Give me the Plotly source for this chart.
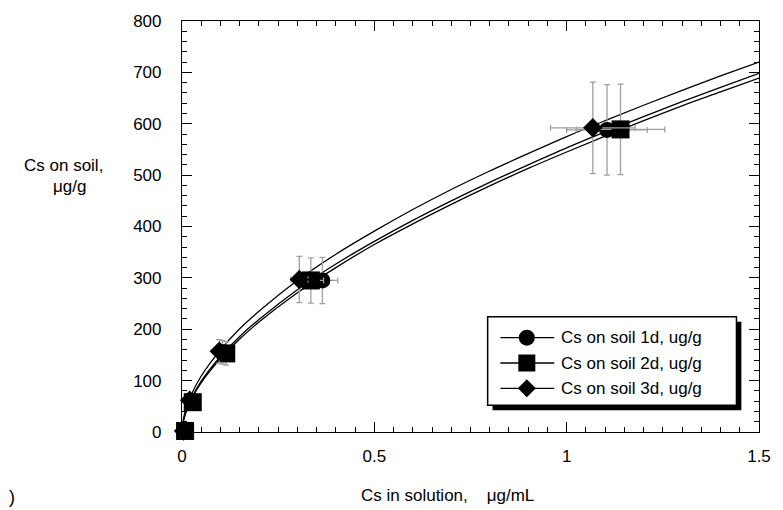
import plotly.graph_objects as go

# ---- measured sorption data (Cs in solution vs Cs on soil) ----
c_1d = [0.005, 0.025, 0.105, 0.365, 1.105]
q_1d = [2, 60, 155, 295, 588]
ex_1d = [0.0005, 0.003, 0.011, 0.04, 0.105]
ey_1d = [0.3, 9, 23, 45, 88]

c_2d = [0.008, 0.028, 0.115, 0.335, 1.14]
q_2d = [2, 58, 153, 295, 589]
ex_2d = [0.0008, 0.003, 0.011, 0.033, 0.115]
ey_2d = [0.3, 9, 23, 44, 88]

c_3d = [0.004, 0.02, 0.097, 0.305, 1.068]
q_3d = [2, 62, 157, 297, 592]
ex_3d = [0.0004, 0.002, 0.01, 0.022, 0.11]
ey_3d = [0.3, 9, 23, 45, 89]

# ---- fitted isotherm curves ----
fit_c = [0.003, 0.01, 0.025, 0.05, 0.1, 0.15, 0.2, 0.3, 0.4, 0.5, 0.6,
         0.7, 0.8, 0.9, 1.0, 1.1, 1.2, 1.3, 1.4, 1.5]
fit_3d = [23, 45, 74, 109, 160, 201, 235, 295, 346, 391, 433,
          472, 508, 542, 575, 606, 636, 665, 693, 720]
fit_2d = [20, 39, 66, 99, 147, 186, 219, 277, 327, 371, 412,
          450, 486, 520, 553, 584, 614, 643, 671, 698]
fit_1d = [19, 38, 64, 96, 143, 181, 214, 271, 320, 365, 405,
          443, 479, 513, 545, 576, 606, 635, 662, 689]

x_ticks = [0, 0.5, 1, 1.5]
x_tick_text = ["0", "0.5", "1", "1.5"]
y_ticks = [0, 100, 200, 300, 400, 500, 600, 700, 800]

legend_names = ["Cs on soil 1d, ug/g", "Cs on soil 2d, ug/g", "Cs on soil 3d, ug/g"]

FONT = "Arial, Liberation Sans, sans-serif"
W, H = 783, 510
ML, MR, MT, MB = 182, 12, 18, 78
PW, PH = W - ML - MR, H - MT - MB


def px(xp):
    return (xp - ML) / PW


def py(yp):
    return (H - MB - yp) / PH


fig = go.Figure()

# fitted curves
for yv in (fit_1d, fit_2d, fit_3d):
    fig.add_trace(go.Scatter(x=fit_c, y=yv, mode="lines", line_shape="spline",
                             line=dict(color="black", width=1.3),
                             showlegend=False, hoverinfo="skip", cliponaxis=True))

# measured points with error bars
series = [
    (c_1d, q_1d, ex_1d, ey_1d, "circle", 16),
    (c_2d, q_2d, ex_2d, ey_2d, "square", 18),
    (c_3d, q_3d, ex_3d, ey_3d, "diamond", 15),
]
err_style = dict(type="data", color="#a0a0a0", thickness=1.3, width=3)
for (cx, qy, ex, ey, sym, sz), name in zip(series, legend_names):
    fig.add_trace(go.Scatter(
        x=cx, y=qy, mode="markers", name=name, showlegend=False,
        marker=dict(symbol=sym, size=sz, color="black", opacity=1, line=dict(width=0)),
        error_x=dict(array=ex, **err_style),
        error_y=dict(array=ey, **err_style),
        cliponaxis=False))

# ---- legend box with drop shadow ----
box = dict(x0=494, x1=748, y0=316, y1=405)
shapes = [
    dict(type="rect", xref="paper", yref="paper",
         x0=px(box["x0"] + 5), x1=px(box["x1"] + 5),
         y0=py(box["y0"] + 5), y1=py(box["y1"] + 5),
         fillcolor="black", line=dict(width=0), layer="below"),
    dict(type="rect", xref="paper", yref="paper",
         x0=px(box["x0"]), x1=px(box["x1"]),
         y0=py(box["y0"]), y1=py(box["y1"]),
         fillcolor="white", line=dict(color="black", width=1.5), layer="below"),
]
row_y = [337, 362.5, 388]
key_x = 534
for ry in row_y:
    shapes.append(dict(type="line", xref="paper", yref="paper",
                       x0=px(507), x1=px(562), y0=py(ry), y1=py(ry),
                       line=dict(color="black", width=1.3), layer="below"))

# legend key symbols (pixel-sized shapes anchored at the key centre)
key_common = dict(xref="paper", yref="paper", xsizemode="pixel", ysizemode="pixel",
                  xanchor=px(key_x), fillcolor="black", line=dict(width=0),
                  layer="above")
shapes.append(dict(type="circle", yanchor=py(row_y[0]),
                   x0=-8, x1=8, y0=-8, y1=8, **key_common))
shapes.append(dict(type="rect", yanchor=py(row_y[1]),
                   x0=-8.5, x1=8.5, y0=-8.5, y1=8.5, **key_common))
shapes.append(dict(type="path", yanchor=py(row_y[2]),
                   path="M -9 0 L 0 9 L 9 0 L 0 -9 Z", **key_common))
fig.update_layout(shapes=shapes)

annotations = []
for ry, name in zip(row_y, legend_names):
    annotations.append(dict(x=px(567), y=py(ry), xref="paper", yref="paper",
                            text=name, showarrow=False, xanchor="left",
                            yanchor="middle", font=dict(family=FONT, size=17, color="black")))

# axis titles
annotations.append(dict(x=px(61), y=py(164), xref="paper", yref="paper",
                        text="Cs on soil,", showarrow=False, xanchor="center",
                        yanchor="middle", font=dict(family=FONT, size=17, color="black")))
annotations.append(dict(x=px(67), y=py(185), xref="paper", yref="paper",
                        text="\u03bcg/g", showarrow=False, xanchor="center",
                        yanchor="middle", font=dict(family=FONT, size=17, color="black")))
annotations.append(dict(x=px(453), y=py(496), xref="paper", yref="paper",
                        text="Cs in solution,\u00a0\u00a0\u00a0\u00a0\u03bcg/mL",
                        showarrow=False, xanchor="center", yanchor="middle",
                        font=dict(family=FONT, size=17, color="black")))
annotations.append(dict(x=px(3), y=py(497), xref="paper", yref="paper",
                        text=")", showarrow=False, xanchor="left", yanchor="middle",
                        font=dict(family=FONT, size=18, color="black")))

axis_common = dict(showgrid=False, zeroline=False, showline=True, linecolor="black",
                   linewidth=1.2, mirror="ticks", ticks="inside", ticklen=10,
                   tickwidth=1.3, tickcolor="black",
                   tickfont=dict(family=FONT, size=17, color="black"))

fig.update_layout(
    width=W, height=H,
    margin=dict(l=ML, r=MR, t=MT, b=MB),
    paper_bgcolor="white", plot_bgcolor="white",
    showlegend=False,
    annotations=annotations,
    xaxis=dict(range=[0, 1.5], tickvals=x_ticks, ticktext=x_tick_text,
               minor=dict(dtick=0.05, ticks="inside", ticklen=5, tickwidth=1.1,
                          tickcolor="black"),
               ticklabelstandoff=8, **axis_common),
    yaxis=dict(range=[0, 800], tickvals=y_ticks,
               minor=dict(dtick=20, ticks="inside", ticklen=5, tickwidth=1.1,
                          tickcolor="black"),
               ticklabelstandoff=16, **axis_common),
)

fig.write_html("out.html")
